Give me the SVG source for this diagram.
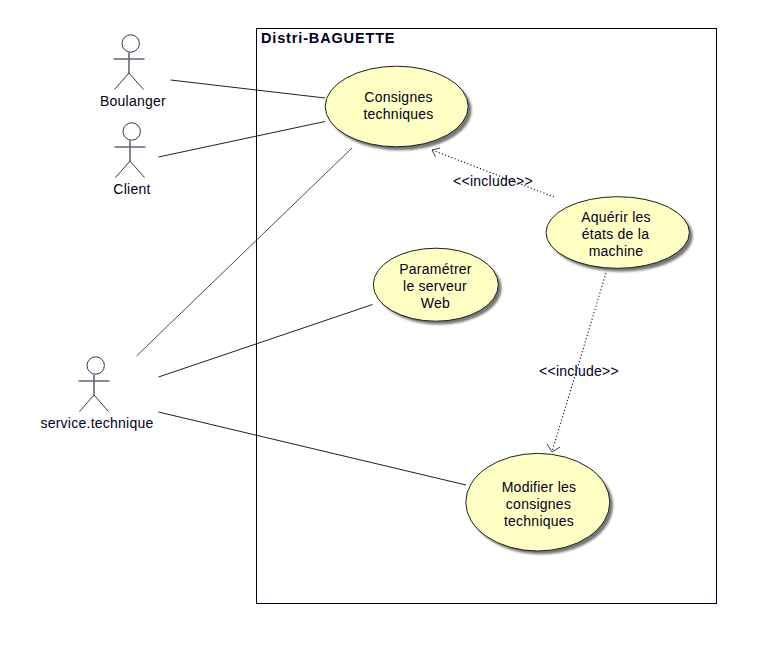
<svg xmlns="http://www.w3.org/2000/svg" width="782" height="650" viewBox="0 0 782 650">
<defs>
<g id="actor"><circle cx="1.700" cy="-46" r="8.700" fill="#fff" stroke="#333348" stroke-width="1"/><path d="M0-37V-16.500M-15.500-30.500H15.500" stroke="#666677" stroke-width="1.600" fill="none"/><path d="M0-16.500L-14.500 0M0-16.500L14.500 0" stroke="#333348" stroke-width="1" fill="none"/></g>
<filter id="b" x="-10%" y="-10%" width="120%" height="120%"><feGaussianBlur stdDeviation="1"/></filter>
</defs>
<style>
text{font-family:"Liberation Sans",Arial,sans-serif;font-size:14px;letter-spacing:.25px;fill:#000020;text-anchor:middle}
.uc{fill:#ffffc4;stroke:#1e1e1e;stroke-width:1}
.sh{fill:#777;filter:url(#b)}
.assoc{stroke:#202020;stroke-width:1;fill:none}
.dep{stroke:#111;stroke-width:1.100;stroke-dasharray:1.200 2.200;fill:none}
.head{stroke:#444;stroke-width:1;fill:none}
</style>
<rect width="782" height="650" fill="#fff"/>
<g id="system"><rect x="256.500" y="28.500" width="460" height="575" fill="#fff" stroke="#000020" stroke-width="1"/><text x="261" y="43" style="text-anchor:start;font-weight:bold;font-size:14.500px;letter-spacing:.85px">Distri-BAGUETTE</text></g>
<g id="connectors">
<path class="assoc" d="M170.500 80L325 98"/>
<path class="assoc" d="M158.500 157L325 121.500"/>
<path class="assoc" d="M136.500 356L352 148" stroke-opacity=".8"/>
<path class="assoc" d="M158.500 377L372.500 304.500"/>
<path class="assoc" d="M158.500 412L466 485"/>
<path class="dep" d="M554 197L432 150"/>
<path class="head" d="M435.500 157L432 150L440 148"/>
<path class="dep" d="M606 273L552 452"/>
<path class="head" d="M547 444L552 452L560 447"/>
</g>
<g id="boulanger"><use href="#actor" x="129" y="89.500"/><text x="133" y="106">Boulanger</text></g>
<g id="client"><use href="#actor" x="130" y="177.500"/><text x="132" y="194">Client</text></g>
<g id="service"><use href="#actor" x="94" y="411.500"/><text x="97" y="428">service.technique</text></g>
<g id="uc1"><ellipse class="sh" cx="400" cy="110" rx="71.500" ry="40.300"/><ellipse class="uc" cx="396.700" cy="106.500" rx="71.500" ry="40.300"/><text x="398.500" y="102">Consignes</text><text x="398.500" y="119">techniques</text></g>
<g id="uc2"><ellipse class="sh" cx="621" cy="236" rx="71.700" ry="35.800"/><ellipse class="uc" cx="617.700" cy="232.500" rx="71.700" ry="35.800"/><text x="616" y="222">Aquérir les</text><text x="615.500" y="239">états de la</text><text x="616" y="256">machine</text></g>
<g id="uc3"><ellipse class="sh" cx="439" cy="288" rx="62.500" ry="36.500"/><ellipse class="uc" cx="435.800" cy="284.700" rx="62.500" ry="36.500"/><text x="435.500" y="274">Paramétrer</text><text x="435" y="291">le serveur</text><text x="435.500" y="308">Web</text></g>
<g id="uc4"><ellipse class="sh" cx="541" cy="505.500" rx="72" ry="48.800"/><ellipse class="uc" cx="537.800" cy="502.200" rx="72" ry="48.800"/><text x="539" y="492">Modifier les</text><text x="538.500" y="509">consignes</text><text x="539" y="526">techniques</text></g>
<g id="labels"><text x="493" y="186">&lt;&lt;include&gt;&gt;</text><text x="579" y="376">&lt;&lt;include&gt;&gt;</text></g>
</svg>
